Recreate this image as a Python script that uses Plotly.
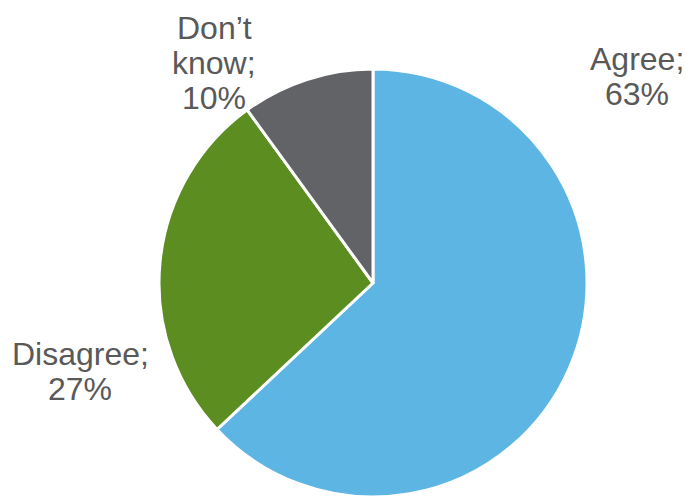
import plotly.graph_objects as go

# Survey responses
labels = ["Agree", "Disagree", "Don\u2019t know"]
values = [63, 27, 10]
colors = ["#5DB5E4", "#5B8D21", "#616366"]

# Label text lines per slice (category name split over lines, then the share)
label_lines = [["Agree;"], ["Disagree;"], ["Don\u2019t", "know;"]]

W, H = 686, 497

fig = go.Figure(
    go.Pie(
        labels=labels,
        values=values,
        marker=dict(colors=colors, line=dict(color="white", width=3)),
        sort=False,
        direction="clockwise",
        rotation=0,
        textinfo="none",
        hoverinfo="label+percent",
        showlegend=False,
        domain=dict(x=[158 / W, 588 / W], y=[0 / H, 428 / H]),
    )
)

# Outside label anchors (pixel centre x, centre y of first line) and line pitch
label_pos = [(637, 59), (80, 354), (214, 28)]
pitch = 35

font = dict(family="Liberation Sans, Arial, sans-serif", size=32, color="#595959")
for lines, val, (cx, cy) in zip(label_lines, values, label_pos):
    rows = lines + [f"{val}%"]
    for i, row in enumerate(rows):
        fig.add_annotation(
            x=cx / W,
            y=1 - (cy + i * pitch) / H,
            xref="paper",
            yref="paper",
            text=row,
            showarrow=False,
            xanchor="center",
            yanchor="middle",
            font=font,
        )

fig.update_layout(
    width=W,
    height=H,
    margin=dict(l=0, r=0, t=0, b=0),
    paper_bgcolor="white",
    plot_bgcolor="white",
)

fig.write_html("out.html")
